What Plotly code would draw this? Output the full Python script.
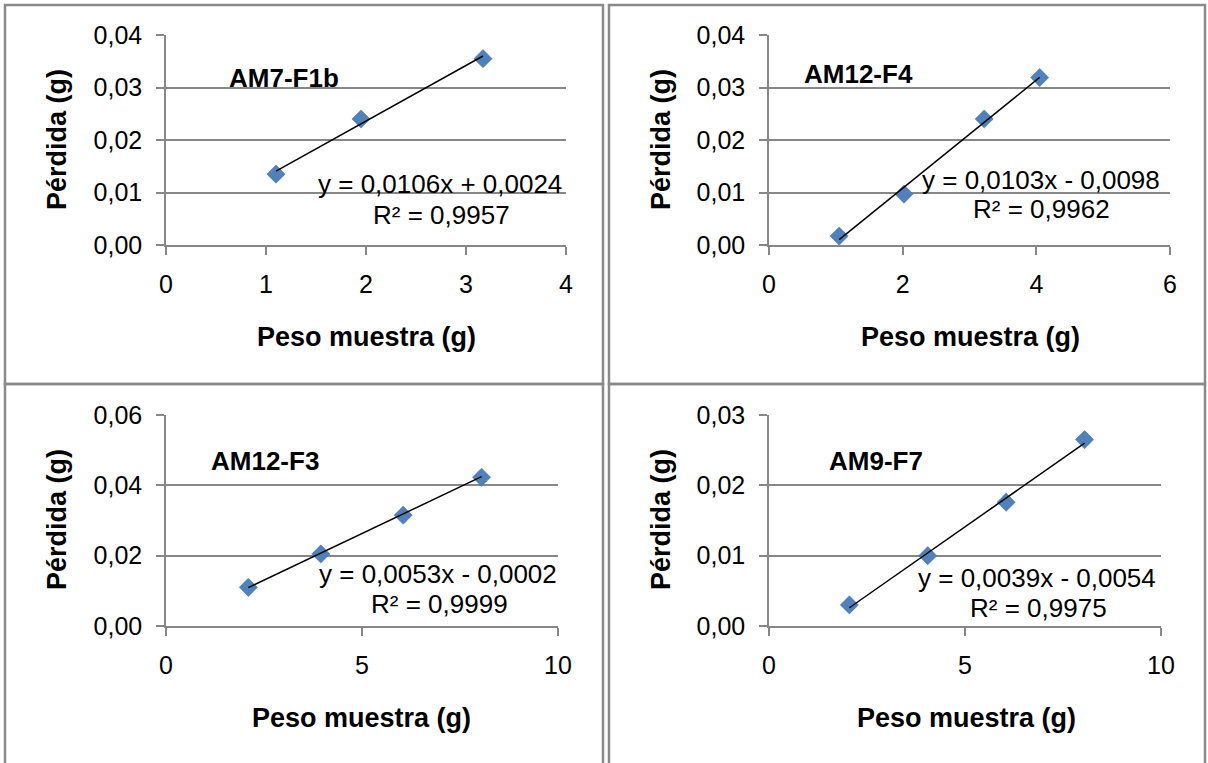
import plotly.graph_objects as go
import numpy as np

W, H = 1208, 763

# ---- data ----
names = ["AM7-F1b", "AM12-F4", "AM12-F3", "AM9-F7"]
x1 = [1.10, 1.95, 3.17]
y1 = [0.0135, 0.0240, 0.0355]
x2 = [1.05, 2.02, 3.22, 4.05]
y2 = [0.0017, 0.0097, 0.0240, 0.0319]
x3 = [2.10, 3.95, 6.05, 8.05]
y3 = [0.0110, 0.0205, 0.0315, 0.0423]
x4 = [2.05, 4.05, 6.05, 8.05]
y4 = [0.0030, 0.0100, 0.0176, 0.0265]
slopes = [0.0106, 0.0103, 0.0053, 0.0039]
intercepts = [0.0024, -0.0098, -0.0002, -0.0054]
eq_texts = ["y = 0,0106x + 0,0024", "y = 0,0103x - 0,0098",
            "y = 0,0053x - 0,0002", "y = 0,0039x - 0,0054"]
r2_texts = ["R² = 0,9957", "R² = 0,9962", "R² = 0,9999", "R² = 0,9975"]
x_ranges = [[0, 4], [0, 6], [0, 10], [0, 10]]
x_dticks = [1, 2, 5, 5]
y_ranges = [[0, 0.04], [0, 0.04], [0, 0.06], [0, 0.03]]
y_dticks = [0.01, 0.01, 0.02, 0.01]
x_title = "Peso muestra (g)"
y_title = "Pérdida (g)"

xs = [x1, x2, x3, x4]
ys = [y1, y2, y3, y4]

# ---- layout geometry (pixels) ----
plot_px = [  # left, right, top, bottom
    (166, 566, 35, 245),
    (769, 1170, 35, 245),
    (166, 558, 415, 626),
    (769, 1161, 415, 626),
]
name_pos = [(284, 78), (858, 74), (265, 461), (876, 461)]
eq_pos = [(440, 184), (1041, 180), (438, 574), (1037, 578)]
r2_pos = [(441, 215), (1041, 209), (439, 604), (1038, 608)]
ytitle_pos = [(57, 140), (661, 140), (57, 520), (661, 520)]
xtitle_pos = [(366, 337), (970, 337), (362, 718), (966, 718)]


def px(x):
    return x / W


def py(y):
    return 1 - y / H


FONT = "Liberation Sans, Arial, sans-serif"
GRID = "#878787"
MARK = "#4F81BD"

fig = go.Figure()
layout = dict(
    width=W, height=H, margin=dict(l=0, r=0, t=0, b=0),
    paper_bgcolor="white", plot_bgcolor="white",
    showlegend=False, separators=",.",
    font=dict(family=FONT, size=25, color="black"),
)
annotations = []
shapes = []

for i in range(4):
    k = "" if i == 0 else str(i + 1)
    xa, ya = "x" + k, "y" + k
    fig.add_trace(go.Scatter(
        x=xs[i], y=ys[i], mode="markers", xaxis=xa, yaxis=ya,
        marker=dict(symbol="diamond", size=14, color=MARK,
                    line=dict(width=0.5, color="#3f6fa8")),
    ))
    xl = np.array([min(xs[i]), max(xs[i])])
    fig.add_trace(go.Scatter(
        x=xl, y=slopes[i] * xl + intercepts[i], mode="lines",
        xaxis=xa, yaxis=ya, line=dict(color="black", width=1.5),
    ))
    l, r, t, b = plot_px[i]
    layout["xaxis" + k] = dict(
        domain=[px(l), px(r)], anchor=ya, range=x_ranges[i],
        dtick=x_dticks[i], tick0=0, showgrid=False, zeroline=False,
        showline=True, linecolor=GRID, linewidth=1.5,
        ticks="outside", ticklen=8, tickcolor=GRID, tickwidth=1.5,
        tickfont=dict(size=25, family=FONT), ticklabelstandoff=8,
        automargin=False,
    )
    layout["yaxis" + k] = dict(
        domain=[py(b), py(t)], anchor=xa, range=y_ranges[i],
        dtick=y_dticks[i], tick0=0, tickformat=".2f",
        showgrid=True, gridcolor=GRID, gridwidth=1.5, zeroline=False,
        showline=True, linecolor=GRID, linewidth=1.5,
        ticks="outside", ticklen=8, tickcolor=GRID, tickwidth=1.5,
        tickfont=dict(size=25, family=FONT), ticklabelstandoff=9,
        automargin=False,
    )
    annotations.append(dict(x=px(name_pos[i][0]), y=py(name_pos[i][1]),
                            xref="paper", yref="paper", text="<b>" + names[i] + "</b>",
                            showarrow=False, xanchor="center", yanchor="middle",
                            font=dict(size=26, family=FONT)))
    annotations.append(dict(x=px(eq_pos[i][0]), y=py(eq_pos[i][1]),
                            xref="paper", yref="paper", text=eq_texts[i],
                            showarrow=False, xanchor="center", yanchor="middle",
                            font=dict(size=26, family=FONT)))
    annotations.append(dict(x=px(r2_pos[i][0]), y=py(r2_pos[i][1]),
                            xref="paper", yref="paper", text=r2_texts[i],
                            showarrow=False, xanchor="center", yanchor="middle",
                            font=dict(size=26, family=FONT)))
    annotations.append(dict(x=px(ytitle_pos[i][0]), y=py(ytitle_pos[i][1]),
                            xref="paper", yref="paper", text="<b>" + y_title + "</b>",
                            showarrow=False, xanchor="center", yanchor="middle",
                            textangle=-90, font=dict(size=27, family=FONT)))
    annotations.append(dict(x=px(xtitle_pos[i][0]), y=py(xtitle_pos[i][1]),
                            xref="paper", yref="paper", text="<b>" + x_title + "</b>",
                            showarrow=False, xanchor="center", yanchor="middle",
                            font=dict(size=27, family=FONT)))

# panel borders
for (x0, y0, x1b, y1b) in [(5, 5, 603, 384), (609, 5, 1205, 384),
                           (5, 384, 603, 820), (609, 384, 1205, 820)]:
    shapes.append(dict(type="rect", xref="paper", yref="paper",
                       x0=px(x0), x1=px(x1b), y0=py(y1b), y1=py(y0),
                       line=dict(color="#8a8a8a", width=2.5)))

layout["annotations"] = annotations
layout["shapes"] = shapes
fig.update_layout(**layout)
fig.write_html("out.html")
